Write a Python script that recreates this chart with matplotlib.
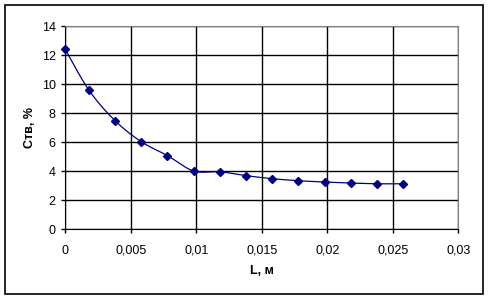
import numpy as np
import matplotlib
matplotlib.use("Agg")
import matplotlib.pyplot as plt
from matplotlib.patches import Rectangle

L_m = [0.0, 0.0018, 0.0038, 0.0058, 0.0078, 0.0098, 0.0118, 0.0138, 0.0158, 0.0178, 0.0198, 0.0218, 0.0238, 0.0258]
C_tv = [12.41, 9.6, 7.49, 6.04, 5.08, 4.02, 3.97, 3.70, 3.49, 3.35, 3.26, 3.19, 3.14, 3.14]
x_ticks = [0, 0.005, 0.01, 0.015, 0.02, 0.025, 0.03]
x_tick_labels = ["0", "0,005", "0,01", "0,015", "0,02", "0,025", "0,03"]
y_ticks = [0, 2, 4, 6, 8, 10, 12, 14]

plt.rcParams['font.family'] = ['Liberation Sans', 'DejaVu Sans']

W, H = 492, 300
fig = plt.figure(figsize=(W / 100, H / 100), dpi=100)
ax = fig.add_axes([65.3 / W, 1 - 229.3 / H, (458.3 - 65.3) / W, (229.3 - 26.3) / H])

# smoothed curve (Catmull-Rom style Bezier, like Excel's smoothed line)
def smooth(xs, ys, n=20, t=1/6):
    xs = np.asarray(xs, float); ys = np.asarray(ys, float)
    px, py = [], []
    for i in range(len(xs) - 1):
        x0, y0 = (xs[i - 1], ys[i - 1]) if i > 0 else (xs[i], ys[i])
        x1, y1 = xs[i], ys[i]
        x2, y2 = xs[i + 1], ys[i + 1]
        x3, y3 = (xs[i + 2], ys[i + 2]) if i + 2 < len(xs) else (x2, y2)
        c1x, c1y = x1 + (x2 - x0) * t, y1 + (y2 - y0) * t
        c2x, c2y = x2 - (x3 - x1) * t, y2 - (y3 - y1) * t
        s = np.linspace(0, 1, n)
        bx = (1 - s) ** 3 * x1 + 3 * (1 - s) ** 2 * s * c1x + 3 * (1 - s) * s ** 2 * c2x + s ** 3 * x2
        by = (1 - s) ** 3 * y1 + 3 * (1 - s) ** 2 * s * c1y + 3 * (1 - s) * s ** 2 * c2y + s ** 3 * y2
        px.extend(bx); py.extend(by)
    return px, py

sx, sy = smooth(L_m, C_tv)
ax.plot(sx, sy, color='#000080', lw=0.9, zorder=3, clip_on=False)
ax.plot(L_m, C_tv, linestyle='none', marker='D', ms=4.2, color='#000080', zorder=4, clip_on=False)

ax.set_xlim(0, 0.03)
ax.set_ylim(0, 14)
ax.set_xticks(x_ticks)
ax.set_xticklabels(x_tick_labels)
ax.set_yticks(y_ticks)
ax.grid(True, color='black', lw=1.0)
ax.set_axisbelow(True)
for s in ['top', 'right']:
    ax.spines[s].set_color('#808080')
for s in ['left', 'bottom']:
    ax.spines[s].set_color('black')
ax.tick_params(axis='both', direction='out', length=3, width=1, labelsize=9, colors='black')
ax.tick_params(axis='x', pad=8)
ax.tick_params(axis='y', pad=4)
ax.set_xlabel('L, м', fontsize=9, fontweight='bold', labelpad=6)
ax.set_ylabel('Ств, %', fontsize=9, fontweight='bold', labelpad=4)

fig.patches.append(Rectangle((5.3 / W, 1 - 294 / H), (482.7 - 5.3) / W, (294 - 5.3) / H,
                             transform=fig.transFigure, fill=False, edgecolor='black', lw=1.2))

fig.savefig('out.png', dpi=100)
